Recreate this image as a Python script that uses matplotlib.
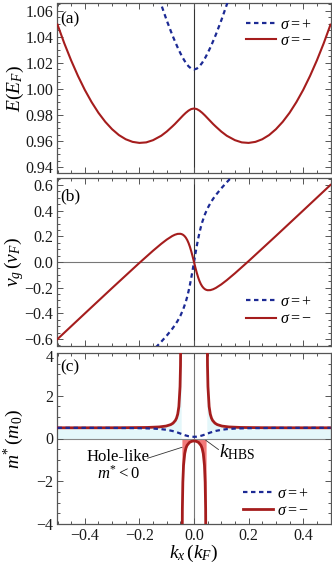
import matplotlib
matplotlib.use('Agg')
import numpy as np
import matplotlib.pyplot as plt
import matplotlib.transforms as mtransforms
from matplotlib.ticker import MultipleLocator

plt.rcParams['font.family'] = ['Liberation Serif', 'DejaVu Serif']
plt.rcParams['mathtext.fontset'] = 'custom'
plt.rcParams['mathtext.rm'] = 'Liberation Serif'
plt.rcParams['mathtext.it'] = 'Liberation Serif:italic'
plt.rcParams['mathtext.bf'] = 'Liberation Serif:bold'
plt.rcParams['axes.unicode_minus'] = True

# ---------------- data ----------------
# (a) energy bands
k_red_a = [-0.5, -0.475, -0.45, -0.425, -0.4, -0.375, -0.35, -0.325, -0.3, -0.275, -0.25,
           -0.225, -0.2, -0.175, -0.15, -0.12, -0.1, -0.08, -0.07, -0.06, -0.05, -0.04,
           -0.03, -0.02, -0.01, 0.0, 0.01, 0.02, 0.03, 0.04, 0.05, 0.06, 0.07, 0.08, 0.1,
           0.12, 0.15, 0.175, 0.2, 0.225, 0.25, 0.275, 0.3, 0.325, 0.35, 0.375, 0.4, 0.425,
           0.45, 0.475, 0.5]
E_red = [1.0494, 1.0350, 1.0219, 1.0100, 0.9993, 0.9899, 0.9817, 0.9748, 0.9691, 0.9646, 0.9614,
         0.9594, 0.9586, 0.9590, 0.9607, 0.9641, 0.9673, 0.9711, 0.9731, 0.9753, 0.9775, 0.9797,
         0.9817, 0.9834, 0.9846, 0.9850, 0.9846, 0.9834, 0.9817, 0.9797, 0.9775, 0.9753, 0.9731, 0.9711, 0.9673,
         0.9641, 0.9607, 0.9590, 0.9586, 0.9594, 0.9614, 0.9646, 0.9691, 0.9748, 0.9817, 0.9899, 0.9993, 1.0100,
         1.0219, 1.0350, 1.0494]
k_blue_a = [-0.14, -0.12, -0.1, -0.08, -0.07, -0.06, -0.05, -0.04, -0.03, -0.02, -0.01, 0.0,
            0.01, 0.02, 0.03, 0.04, 0.05, 0.06, 0.07, 0.08, 0.1, 0.12, 0.14]
E_blue = [1.0776, 1.0647, 1.0527, 1.0417, 1.0367, 1.0319, 1.0275, 1.0235, 1.0201, 1.0174, 1.0156, 1.0150,
          1.0156, 1.0174, 1.0201, 1.0235, 1.0275, 1.0319, 1.0367, 1.0417, 1.0527, 1.0647, 1.0776]

# (b) group velocity
k_red_b = [-0.5, -0.4, -0.3, -0.2, -0.15, -0.12, -0.1, -0.08, -0.07, -0.06, -0.05, -0.045, -0.04,
           -0.035, -0.03, -0.025, -0.02, -0.015, -0.01, -0.005, 0.0, 0.005, 0.01, 0.015, 0.02,
           0.025, 0.03, 0.035, 0.04, 0.045, 0.05, 0.06, 0.07, 0.08, 0.1, 0.12, 0.15, 0.2, 0.3, 0.4, 0.5]
v_red = [-0.6011, -0.4017, -0.2031, -0.0069, 0.0880, 0.1418, 0.1745, 0.2022, 0.2126, 0.2192, 0.2200, 0.2173, 0.2118,
         0.2029, 0.1899, 0.1719, 0.1482, 0.1186, 0.0831, 0.0429, 0.0, -0.0429, -0.0831, -0.1186, -0.1482,
         -0.1719, -0.1899, -0.2029, -0.2118, -0.2173, -0.2200, -0.2192, -0.2126, -0.2022, -0.1745, -0.1418, -0.0880,
         0.0069, 0.2031, 0.4017, 0.6011]
k_blue_b = [-0.14, -0.12, -0.1, -0.08, -0.07, -0.06, -0.05, -0.04, -0.03, -0.025, -0.02, -0.015, -0.01,
            -0.005, 0.0, 0.005, 0.01, 0.015, 0.02, 0.025, 0.03, 0.04, 0.05, 0.06, 0.07, 0.08, 0.1, 0.12, 0.14]
v_blue = [-0.6664, -0.6218, -0.5745, -0.5222, -0.4926, -0.4592, -0.4200, -0.3718, -0.3099, -0.2719, -0.2282,
          -0.1786, -0.1231, -0.0629, 0.0, 0.0629, 0.1231, 0.1786, 0.2282, 0.2719, 0.3099, 0.3718, 0.4200,
          0.4592, 0.4926, 0.5222, 0.5745, 0.6218, 0.6664]

# (c) effective mass
k_red_c_out = [0.0469, 0.0477, 0.0494, 0.0511, 0.0554, 0.0596, 0.0639, 0.0682, 0.0767, 0.0852,
               0.1022, 0.1278, 0.17, 0.256, 0.34, 0.5]
m_red_c_out = [10.7, 6.15, 3.42, 2.43, 1.495, 1.141, 0.956, 0.844, 0.718, 0.650,
               0.582, 0.541, 0.517, 0.505, 0.502, 0.501]
k_red_c_in = [-0.0443, -0.0426, -0.0409, -0.0383, -0.034, -0.0298, -0.0256, -0.017, -0.0085, 0.0,
              0.0085, 0.017, 0.0256, 0.0298, 0.034, 0.0383, 0.0409, 0.0426, 0.0443]
m_red_c_in = [-7.4, -3.29, -2.045, -1.252, -0.708, -0.461, -0.325, -0.188, -0.131, -0.1154,
              -0.131, -0.188, -0.325, -0.461, -0.708, -1.252, -2.045, -3.29, -7.4]
k_blue_c = [-0.5, -0.4, -0.3, -0.2, -0.15, -0.12, -0.1, -0.08, -0.07, -0.06, -0.05, -0.04, -0.03,
            -0.02, -0.01, 0.0, 0.01, 0.02, 0.03, 0.04, 0.05, 0.06, 0.07, 0.08, 0.1, 0.12, 0.15,
            0.2, 0.3, 0.4, 0.5]
m_blue_c = [0.4989, 0.4978, 0.4950, 0.4838, 0.4646, 0.4380, 0.4062, 0.3552, 0.3201, 0.2787, 0.2323,
            0.1847, 0.1413, 0.1072, 0.0860, 0.0790, 0.0860, 0.1072, 0.1413, 0.1847, 0.2323, 0.2787,
            0.3201, 0.3552, 0.4062, 0.4380, 0.4646, 0.4838, 0.4950, 0.4978, 0.4989]

x_ticks = [-0.4, -0.2, 0.0, 0.2, 0.4]
ya_ticks = [0.94, 0.96, 0.98, 1.00, 1.02, 1.04, 1.06]
yb_ticks = [-0.6, -0.4, -0.2, 0.0, 0.2, 0.4, 0.6]
yc_ticks = [-4, -2, 0, 2, 4]

# ---------------- styling ----------------
RED = '#a51d1d'
BLUE = '#1c2a94'
CYAN = '#e4f7fa'
PINK = '#f27a7a'
FRAME = '#555555'
MINUS = '\u2212'

def fmt(v, nd):
    s = ('%.' + str(nd) + 'f') % v
    if s.startswith('-'):
        s = s[1:] if float(s) == 0 else MINUS + s[1:]
    return s

W, H = 332, 564
fig = plt.figure(figsize=(W / 100, H / 100), dpi=100)

def ax_rect(left, top, right, bottom):
    return [left / W, 1 - bottom / H, (right - left) / W, (bottom - top) / H]

axa = fig.add_axes(ax_rect(57.5, 3, 330.5, 173))
axb = fig.add_axes(ax_rect(57.5, 178, 330.5, 346))
axc = fig.add_axes(ax_rect(57.5, 353, 330.5, 524))

LABEL_X = (26 - 57.5) / 273.0

def style(ax, yticks, yminor, labelx):
    ax.set_xlim(-0.5, 0.5)
    ax.set_xticks(x_ticks)
    ax.xaxis.set_minor_locator(MultipleLocator(0.05))
    ax.set_yticks(yticks)
    ax.yaxis.set_minor_locator(MultipleLocator(yminor))
    ax.tick_params(which='both', direction='in', top=True, right=True, colors=FRAME,
                   labelcolor='#1a1a1a', labelsize=11.5, width=0.7, pad=3)
    ax.tick_params(which='major', length=4)
    ax.tick_params(which='minor', length=2)
    for s in ax.spines.values():
        s.set_color(FRAME)
        s.set_linewidth(0.9)
    if not labelx:
        ax.tick_params(labelbottom=False)
    else:
        ax.set_xticklabels([fmt(v, 1) for v in x_ticks])

# (a)
axa.axvline(0, color='#333333', lw=0.8, zorder=1)
axa.plot(k_blue_a, E_blue, color=BLUE, lw=1.6, ls=(0, (2.0, 1.6)), label=r'$\sigma=+$', zorder=3)
axa.plot(k_red_a, E_red, color=RED, lw=1.5, label=r'$\sigma=-$', zorder=3)
axa.set_ylim(0.9355, 1.066)
style(axa, ya_ticks, 0.005, False)
axa.set_yticklabels([fmt(v, 2) for v in ya_ticks])
axa.set_ylabel(r'$E(E_F)$', fontsize=14)
axa.yaxis.set_label_coords(LABEL_X, 0.5)
axa.text(0.01, 0.905, '(a)', transform=axa.transAxes, fontsize=12.5, va='center', ha='left')
axa.legend(loc='upper left', bbox_to_anchor=(0.69, 0.92), frameon=False, fontsize=11.5,
           handlelength=1.9, handletextpad=0.25, labelspacing=0.0, borderpad=0, borderaxespad=0)

# (b)
axb.axvline(0, color='#333333', lw=0.8, zorder=1)
axb.axhline(0, color='#777777', lw=0.8, zorder=1)
axb.plot(k_blue_b, v_blue, color=BLUE, lw=1.6, ls=(0, (2.0, 1.6)), label=r'$\sigma=+$', zorder=3)
axb.plot(k_red_b, v_red, color=RED, lw=1.5, label=r'$\sigma=-$', zorder=3)
axb.set_ylim(-0.655, 0.655)
style(axb, yb_ticks, 0.05, False)
axb.set_yticklabels([fmt(v, 1) for v in yb_ticks])
axb.set_ylabel(r'$v_g\,(v_F)$', fontsize=14)
axb.yaxis.set_label_coords(LABEL_X, 0.5)
axb.text(0.01, 0.893, '(b)', transform=axb.transAxes, fontsize=12.5, va='center', ha='left')
axb.legend(loc='upper left', bbox_to_anchor=(0.69, 0.31), frameon=False, fontsize=11.5,
           handlelength=1.9, handletextpad=0.25, labelspacing=0.08, borderpad=0, borderaxespad=0)

# (c)
k_out_left = [-v for v in k_red_c_out][::-1]
m_out_left = m_red_c_out[::-1]
axc.fill_between(k_out_left, 0, m_out_left, color=CYAN, lw=0, zorder=0)
axc.fill_between(k_red_c_out, 0, m_red_c_out, color=CYAN, lw=0, zorder=0)
axc.fill_between(k_red_c_in, m_red_c_in, 0, color=PINK, lw=0, zorder=0)
axc.axvline(0, color='#777777', lw=0.8, zorder=1)
axc.axhline(0, color='#888888', lw=0.8, zorder=1)
axc.plot(k_blue_c, m_blue_c, color=BLUE, lw=1.6, ls=(0, (2.0, 1.6)), label=r'$\sigma=+$', zorder=4)
axc.plot(k_red_c_in, m_red_c_in, color=RED, lw=2.0, label=r'$\sigma=-$', zorder=3)
axc.plot(k_out_left, m_out_left, color=RED, lw=2.0, zorder=3)
axc.plot(k_red_c_out, m_red_c_out, color=RED, lw=2.0, zorder=3)
axc.set_ylim(-4, 4)
style(axc, yc_ticks, 0.5, True)
axc.set_yticklabels([fmt(v, 0) for v in yc_ticks])
# nudge the top "4" label down slightly so it clears the "-0.6" above
top_lbl = axc.get_yticklabels()[-1]
top_lbl.set_transform(top_lbl.get_transform() +
                      mtransforms.ScaledTranslation(0, -3.5 / 100, fig.dpi_scale_trans))
axc.set_ylabel(r'$m^{*}\,(m_0)$', fontsize=14)
axc.yaxis.set_label_coords(LABEL_X, 0.5)
axc.set_xlabel(r'$k_x\,(k_F)$', fontsize=14, labelpad=-1)
axc.text(0.01, 0.918, '(c)', transform=axc.transAxes, fontsize=12.5, va='center', ha='left')
axc.legend(loc='upper left', bbox_to_anchor=(0.68, 0.225), frameon=False, fontsize=11.5,
           handlelength=1.9, handletextpad=0.25, labelspacing=0.08, borderpad=0, borderaxespad=0)

axc.text(-0.277, -1.28, 'Hole-like\n$m^{*}<0$', fontsize=12, ha='center', va='center',
         linespacing=1.05, zorder=5)
axc.annotate('', xy=(-0.0436, -0.41), xytext=(-0.170, -0.925),
             arrowprops=dict(arrowstyle='-', lw=0.6, color='#333333', shrinkA=0, shrinkB=0))
axc.text(0.090, -0.66, r'$k_{\mathrm{HBS}}$', fontsize=14, ha='left', va='center')
axc.annotate('', xy=(0.043, -0.08), xytext=(0.09, -0.52),
             arrowprops=dict(arrowstyle='-', lw=0.6, color='#333333', shrinkA=0, shrinkB=0))

fig.savefig('out.png', dpi=100)
